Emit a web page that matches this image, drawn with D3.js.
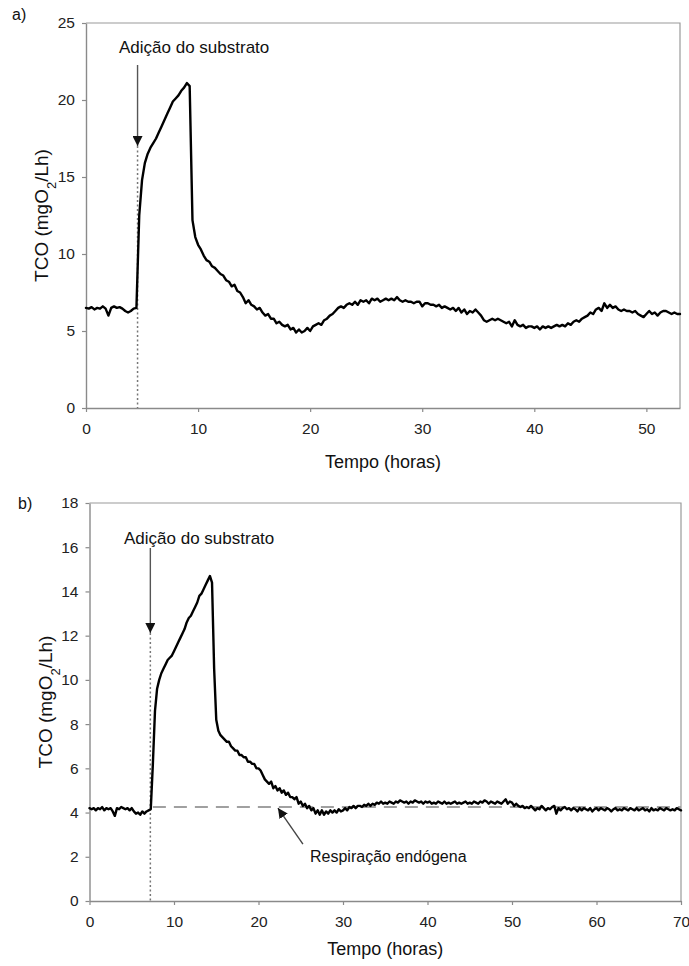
<!DOCTYPE html>
<html><head><meta charset="utf-8">
<script src="https://cdn.jsdelivr.net/npm/d3@7"></script>
<style>
body{margin:0;background:#fff}
svg{display:block;font-family:"Liberation Sans",Arial,Helvetica,sans-serif}
</style>
</head><body>
<svg id="chart" width="689" height="966"></svg>
<script>
// ---- data (sampled every 0.25 h) ----
const sampleStep = 0.25;

// panel a) : 0 .. 53 h
const topTCO = [
 6.5, 6.45, 6.55, 6.4,
 6.5, 6.45, 6.6, 6.45,
 6.0, 6.5, 6.6, 6.5,
 6.55, 6.45, 6.3, 6.2,
 6.3, 6.45, 6.5, 12.5,
 14.8, 15.9, 16.5, 16.9,
 17.2, 17.5, 17.9, 18.3,
 18.7, 19.1, 19.5, 19.9,
 20.1, 20.3, 20.6, 20.8,
 21.1, 20.9, 12.2, 11.1,
 10.6, 10.3, 9.9, 9.6,
 9.5, 9.2, 9.1, 8.9,
 8.7, 8.6, 8.3, 8.2,
 7.9, 8.0, 7.6, 7.5,
 7.2, 6.8, 7.0, 6.7,
 6.6, 6.4, 6.5, 6.2,
 6.0, 6.1, 5.8, 5.8,
 5.5, 5.6, 5.4, 5.3,
 5.4, 5.1, 5.2, 4.9,
 5.1, 4.9, 5.0, 5.2,
 5.0, 5.3, 5.4, 5.5,
 5.4, 5.7, 5.8, 6.0,
 6.1, 6.3, 6.5, 6.6,
 6.5, 6.7, 6.8, 6.7,
 6.9, 6.7, 7.0, 6.9,
 7.0, 6.8, 7.1, 7.0,
 7.1, 6.9, 7.0, 7.1,
 7.0, 7.1, 7.0, 7.2,
 7.0, 6.9, 7.0, 6.9,
 6.9, 6.8, 6.9, 6.9,
 6.6, 6.8, 6.8, 6.7,
 6.7, 6.6, 6.7, 6.5,
 6.6, 6.5, 6.4, 6.5,
 6.3, 6.5, 6.2, 6.4,
 6.1, 6.3, 6.2, 6.4,
 6.2, 6.0, 5.7, 5.6,
 5.7, 5.8, 5.7, 5.8,
 5.7, 5.6, 5.5, 5.6,
 5.3, 5.7, 5.4, 5.3,
 5.4, 5.2, 5.3, 5.3,
 5.2, 5.3, 5.1, 5.3,
 5.2, 5.3, 5.2, 5.3,
 5.4, 5.3, 5.4, 5.3,
 5.5, 5.4, 5.6, 5.7,
 5.6, 5.8, 5.9, 6.0,
 6.2, 6.1, 6.4, 6.5,
 6.3, 6.8, 6.5, 6.7,
 6.5, 6.6, 6.4, 6.3,
 6.4, 6.3, 6.3, 6.2,
 6.3, 6.1, 6.0, 5.9,
 6.1, 6.3, 6.1, 6.2,
 6.0, 6.2, 6.3, 6.3,
 6.2, 6.1, 6.2, 6.1,
 6.1
];

// panel b) : 0 .. 70 h
const bottomTCO = [
 4.2, 4.15, 4.2, 4.1,
 4.2, 4.15, 4.25, 4.1,
 4.2, 4.15, 4.2, 4.05,
 3.85, 4.2, 4.15, 4.25,
 4.2, 4.15, 4.2, 4.1,
 4.2, 4.05, 3.95, 4.0,
 3.9, 4.05, 3.95, 4.05,
 4.1, 4.15, 6.2, 8.6,
 9.6, 10.0, 10.3, 10.5,
 10.7, 10.9, 11.0, 11.1,
 11.3, 11.5, 11.7, 11.9,
 12.1, 12.3, 12.6, 12.8,
 12.9, 13.1, 13.3, 13.5,
 13.8, 13.9, 14.1, 14.3,
 14.5, 14.7, 14.4, 10.5,
 8.2, 7.7, 7.5, 7.4,
 7.3, 7.2, 7.2, 7.0,
 6.9, 6.8, 6.8, 6.6,
 6.6, 6.5, 6.5, 6.3,
 6.3, 6.2, 6.2, 6.0,
 6.0, 5.9, 5.7, 5.5,
 5.4, 5.3, 5.4, 5.1,
 5.2, 5.0, 5.1, 4.9,
 5.0, 4.8, 4.9, 4.7,
 4.7, 4.6, 4.7, 4.4,
 4.5, 4.3, 4.4, 4.2,
 4.3, 4.1, 4.2, 3.95,
 4.1, 3.9, 4.1, 3.9,
 4.05, 3.95, 4.1, 4.0,
 4.1, 4.0, 4.15, 4.05,
 4.1, 4.2, 4.1, 4.25,
 4.2, 4.3, 4.2, 4.3,
 4.3, 4.25, 4.35, 4.3,
 4.4, 4.3, 4.4, 4.35,
 4.45, 4.4, 4.5, 4.4,
 4.45, 4.4, 4.5, 4.45,
 4.4, 4.5, 4.45, 4.55,
 4.5, 4.45, 4.5, 4.4,
 4.5, 4.45, 4.55, 4.5,
 4.45, 4.5, 4.4, 4.5,
 4.45, 4.5, 4.4, 4.45,
 4.4, 4.5, 4.45, 4.4,
 4.5, 4.4, 4.45, 4.4,
 4.45, 4.5, 4.4, 4.45,
 4.4, 4.45, 4.5, 4.4,
 4.45, 4.4, 4.5, 4.45,
 4.4, 4.5, 4.45, 4.55,
 4.5, 4.4, 4.5, 4.45,
 4.4, 4.5, 4.45, 4.4,
 4.5, 4.6, 4.4, 4.5,
 4.45, 4.3, 4.4, 4.3,
 4.25, 4.3, 4.2, 4.25,
 4.2, 4.3, 4.2, 4.1,
 4.2, 4.15, 4.3, 4.2,
 4.1, 4.2, 4.15, 4.25,
 4.3, 3.95, 4.2, 4.1,
 4.2, 4.25, 4.15, 4.2,
 4.1, 4.2, 4.15, 4.05,
 4.2, 4.1, 4.2, 4.15,
 4.1, 4.2, 4.05, 4.15,
 4.2, 4.1, 4.2, 4.15,
 4.1, 4.2, 4.15, 4.05,
 4.15, 4.2, 4.1, 4.15,
 4.1, 4.2, 4.15, 4.1,
 4.2, 4.15, 4.1, 4.2,
 4.1, 4.15, 4.2, 4.1,
 4.15, 4.05, 4.2, 4.1,
 4.15, 4.1, 4.2, 4.15,
 4.1, 4.2, 4.15, 4.1,
 4.15, 4.1, 4.2, 4.15,
 4.1
];

const topXTicks = [0, 10, 20, 30, 40, 50];
const topYTicks = [0, 5, 10, 15, 20, 25];
const bottomXTicks = [0, 10, 20, 30, 40, 50, 60, 70];
const bottomYTicks = [0, 2, 4, 6, 8, 10, 12, 14, 16, 18];
const panelLabels = ["a)", "b)"];
const additionLabel = "Adição do substrato";
const endogenousLabel = "Respiração endógena";
const additionTimes = [4.6, 7.2];   // hours
const endogenousLevel = 4.25;       // mgO2/Lh
const xTitle = "Tempo (horas)";

// ---- layout ----
const svg = d3.select("#chart");
const defs = svg.append("defs");
defs.append("marker").attr("id", "head").attr("viewBox", "0 0 10 10")
  .attr("refX", 10).attr("refY", 5).attr("markerWidth", 10).attr("markerHeight", 10)
  .attr("markerUnits", "userSpaceOnUse").attr("orient", "auto")
  .append("path").attr("d", "M0,0 L10,5 L0,10 Z").attr("fill", "#111");

const panels = [
  {data: topTCO, xMax: 53, yMax: 25, xTicks: topXTicks, yTicks: topYTicks,
   left: 86, right: 680, top: 23, bottom: 408, label: panelLabels[0], labelPos: [12, 20],
   tAdd: additionTimes[0], annot: [119, 53], arrowTop: 65, arrowTip: 146, yTitleX: 42, xTitleOff: 60},
  {data: bottomTCO, xMax: 70, yMax: 18, xTicks: bottomXTicks, yTicks: bottomYTicks,
   left: 89.5, right: 681, top: 503, bottom: 901, label: panelLabels[1], labelPos: [18, 509],
   tAdd: additionTimes[1], annot: [124, 544], arrowTop: 548, arrowTip: 633, yTitleX: 46, xTitleOff: 54}
];

panels.forEach((p, pi) => {
  const x = d3.scaleLinear().domain([0, p.xMax]).range([p.left, p.right]);
  const y = d3.scaleLinear().domain([0, p.yMax]).range([p.bottom, p.top]);
  const g = svg.append("g");

  // frame (top & right)
  g.append("path")
    .attr("d", `M${p.left},${p.top}H${p.right}V${p.bottom}`)
    .attr("fill", "none").attr("stroke", "#9a9a9a").attr("stroke-width", 1.2);

  const ya = g.append("g").attr("transform", `translate(${p.left},0)`)
    .call(d3.axisLeft(y).tickValues(p.yTicks).tickSize(4).tickSizeOuter(0).tickPadding(7));
  const xa = g.append("g").attr("transform", `translate(0,${p.bottom})`)
    .call(d3.axisBottom(x).tickValues(p.xTicks).tickSize(4).tickSizeOuter(0).tickPadding(11));
  [ya, xa].forEach(a => {
    a.select(".domain").attr("stroke", "#8a8a8a").attr("stroke-width", 1.4);
    a.selectAll(".tick line").attr("stroke", "#8a8a8a").attr("stroke-width", 1.2);
    a.selectAll("text").attr("fill", "#222").style("font-size", "15.5px")
      .style("font-family", '"Liberation Sans",Arial,sans-serif');
  });

  // axis titles
  g.append("text").attr("x", (p.left + p.right) / 2).attr("y", p.bottom + p.xTitleOff)
    .attr("text-anchor", "middle").attr("fill", "#111").style("font-size", "18px").text(xTitle);
  const yt = g.append("text")
    .attr("transform", `translate(${p.yTitleX + 6},${(p.top + p.bottom) / 2}) rotate(-90)`)
    .attr("text-anchor", "middle").attr("fill", "#111").style("font-size", "19px");
  yt.append("tspan").text("TCO (mgO");
  yt.append("tspan").attr("baseline-shift", "sub").style("font-size", "13px").text("2");
  yt.append("tspan").text("/Lh)");

  // panel label
  svg.append("text").attr("x", p.labelPos[0]).attr("y", p.labelPos[1])
    .attr("fill", "#111").style("font-size", "16px").text(p.label);

  // dotted addition line
  g.append("line").attr("x1", x(p.tAdd)).attr("x2", x(p.tAdd))
    .attr("y1", p.arrowTip).attr("y2", p.bottom)
    .attr("stroke", "#777").attr("stroke-width", 1.5).attr("stroke-dasharray", "2,2.5");

  // endogenous dashed level (panel b)
  if (pi === 1) {
    g.append("line").attr("x1", x(p.tAdd + 0.3)).attr("x2", x(p.xMax))
      .attr("y1", y(endogenousLevel)).attr("y2", y(endogenousLevel))
      .attr("stroke", "#a0a0a0").attr("stroke-width", 2).attr("stroke-dasharray", "13,8");
  }

  // series
  const line = d3.line().x((d, i) => x(i * sampleStep)).y(d => y(d)).curve(d3.curveLinear);
  g.append("path").datum(p.data).attr("d", line)
    .attr("fill", "none").attr("stroke", "#000").attr("stroke-width", 2.4)
    .attr("stroke-linejoin", "round").attr("stroke-linecap", "round");

  // annotation arrow
  g.append("line").attr("x1", x(p.tAdd)).attr("x2", x(p.tAdd))
    .attr("y1", p.arrowTop).attr("y2", p.arrowTip)
    .attr("stroke", "#555").attr("stroke-width", 1.4).attr("marker-end", "url(#head)");
  g.append("text").attr("x", p.annot[0]).attr("y", p.annot[1])
    .attr("fill", "#111").style("font-size", "17px").text(additionLabel);

  if (pi === 1) {
    const tipX = x(22.3), tipY = y(endogenousLevel) + 1;
    g.append("line").attr("x1", tipX + 25).attr("y1", tipY + 36)
      .attr("x2", tipX).attr("y2", tipY)
      .attr("stroke", "#444").attr("stroke-width", 1.4).attr("marker-end", "url(#head)");
    g.append("text").attr("x", 310).attr("y", 862)
      .attr("fill", "#111").style("font-size", "16px").text(endogenousLabel);
  }
});
</script>
</body></html>
